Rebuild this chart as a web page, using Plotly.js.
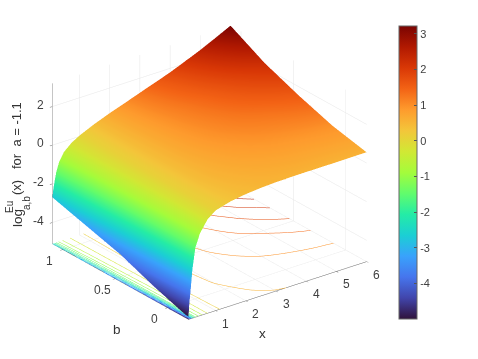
<!DOCTYPE html>
<html><head><meta charset="utf-8">
<script src="https://cdn.plot.ly/plotly-3.0.1.min.js"></script>
<style>html,body{margin:0;padding:0;background:#fff}#c{width:478px;height:359px}</style>
</head><body><div id="c"></div>
<script>
const xVals=[0.1,0.13,0.18,0.23,0.33,0.48,0.73,1,1.5,2,2.5,3,3.5,4,4.5,5,5.5,6];
const bVals=[-0.2,0.125,0.45,0.775,1.1];
const zRow1=[-5.0,-4.3,-3.5,-2.6,-1.5,-0.85,-0.25,0.08,0.3,0.42,0.49,0.53,0.545,0.55,0.55,0.55,0.555,0.56];
const zRow2=[-4.4,-3.8,-3.1,-2.4,-1.4,-0.8,-0.25,0.08,0.38,0.55,0.65,0.73,0.79,0.84,0.87,0.9,0.93,0.95];
const zRow3=[-3.7,-3.2,-2.7,-2.1,-1.3,-0.72,-0.22,0.08,0.4,0.62,0.78,0.92,1.04,1.15,1.24,1.33,1.44,1.55];
const zRow4=[-3.2,-2.75,-2.25,-1.8,-1.15,-0.65,-0.2,0.07,0.4,0.66,0.87,1.06,1.24,1.42,1.63,1.85,2.05,2.25];
const zRow5=[-2.7,-2.3,-1.85,-1.45,-0.95,-0.55,-0.2,0.05,0.4,0.7,0.97,1.25,1.52,1.8,2.12,2.45,2.82,3.2];
const turbo=["#30123b","#4145ab","#4675ed","#39a2fc","#1bcfd4","#24eca6","#61fc6c","#a4fc3b","#d1e834","#f3c63a","#fe9b2d","#f36315","#d93806","#b11901","#7a0402"];
const xTicks=[1,2,3,4,5,6], bTicks=[0,0.5,1], zTicks=[-4,-2,0,2];
const colorTicks=[-4,-3,-2,-1,0,1,2,3];
const xMin=0.1,xMax=6,bMin=-0.2,bMax=1.1,zLow=-5.1,zHigh=3.2,cMin=-5,cMax=3.22;
const colorscale=turbo.map((c,i)=>[i/(turbo.length-1),c]);
const axisCommon={showbackground:false,showgrid:true,gridcolor:'#e6e6e6',gridwidth:1,showline:true,linecolor:'#666',linewidth:1,showticklabels:false,
  ticks:'outside',ticklen:3,tickcolor:'#666',zeroline:false,showspikes:false,title:{text:''}};
const trace={type:'surface',x:xVals,y:bVals,z:[zRow1,zRow2,zRow3,zRow4,zRow5],cmin:cMin,cmax:cMax,colorscale,
  lighting:{ambient:1,diffuse:0,specular:0,roughness:1,fresnel:0},hoverinfo:'skip',
  contours:{z:{show:true,start:-4.66,end:3.2,size:0.4,usecolormap:true,width:1,project:{z:true},highlight:false},x:{highlight:false},y:{highlight:false}},
  colorbar:{x:399/478,xanchor:'left',y:1-26/359,yanchor:'top',len:293,lenmode:'pixels',thickness:18,thicknessmode:'pixels',xpad:0,ypad:0,
    tickmode:'array',tickvals:colorTicks,ticktext:colorTicks.map(String),ticks:'inside',ticklen:3,tickcolor:'#555',outlinecolor:'#666',outlinewidth:1,
    tickfont:{family:'Liberation Sans, Arial',size:11,color:'#404040'}}};
const fontT={family:'Liberation Sans, Arial',size:13.5,color:'#333'}, fontM={family:'Liberation Sans, Arial',size:13,color:'#333'}, fontS={family:'Liberation Sans, Arial',size:10,color:'#333'}, fontK={family:'Liberation Sans, Arial',size:12,color:'#404040'};
const common={showarrow:false,font:fontK,yanchor:'middle'};
const sceneNotes=[
  ...xTicks.map(v=>({...common,x:v,y:bMin,z:zLow,text:String(v),xanchor:'center',xshift:10,yshift:-13})),
  ...bTicks.map(v=>({...common,x:xMin,y:v,z:zLow,text:String(v),xanchor:'center',xshift:-13,yshift:-11})),
  ...zTicks.map(v=>({...common,x:xMin,y:bMax,z:v,text:String(v),xanchor:'right',xshift:-6,yshift:2}))
];
const paperNote=(px,py,text,font,angle)=>({xref:'paper',yref:'paper',x:px/478,y:1-py/359,text,font,textangle:angle||0,showarrow:false,xanchor:'center',yanchor:'middle'});
const layout={width:478,height:359,margin:{l:0,r:0,t:0,b:0},paper_bgcolor:'#fff',showlegend:false,
  scene:{domain:{x:[0,419/478],y:[37/359,336/359]},aspectmode:'manual',aspectratio:{x:1.5,y:1.5,z:1.185},
    camera:{projection:{type:'orthographic'},up:{x:0,y:0,z:1},center:{x:0,y:0,z:0},eye:{x:-0.55*2,y:-0.72*2,z:0.425*2}},
    xaxis:Object.assign({},axisCommon,{range:[xMin,xMax],tickmode:'array',tickvals:xTicks}),
    yaxis:Object.assign({},axisCommon,{range:[bMin,bMax],tickmode:'array',tickvals:bTicks}),
    zaxis:Object.assign({},axisCommon,{range:[zLow,zHigh],tickmode:'array',tickvals:zTicks}),
    annotations:sceneNotes},
  annotations:[
   paperNote(262,333,'x',fontT),
   paperNote(117,329,'b',fontT),
   paperNote(17,218,'log',fontT,-90),
   paperNote(10,207,'Eu',fontS,-90),
   paperNote(26,203,'a,b',fontS,-90),
   paperNote(17,149,'(x)   for  a = -1.1',fontM,-90)
  ]};
Plotly.newPlot('c',[trace],layout,{displayModeBar:false});
</script></body></html>
